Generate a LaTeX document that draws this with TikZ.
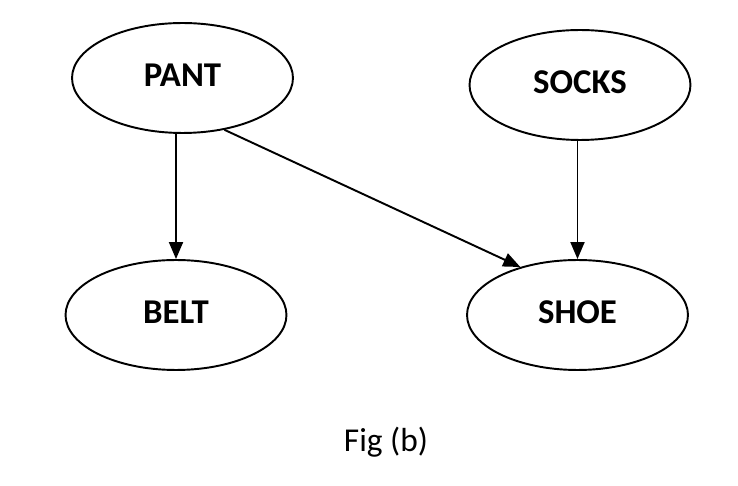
\documentclass[tikz,border=0pt]{standalone}
\usepackage{fontspec}
\setmainfont{Carlito}
\usetikzlibrary{arrows.meta, shapes.geometric}

\begin{document}
\begin{tikzpicture}[
            x = 0.02cm, y = -0.02cm, % one unit per pixel of the figure
            > = {Triangle[width=0.28cm, length=0.34cm]}, % arrow head style
            line width = 1.1pt % line style
        ]

        \tikzstyle{item}=[
            ellipse,
            draw = black,
            line width = 1.1pt,
            fill = white,
            inner sep = 0pt,
            minimum width = 4.42cm,
            minimum height = 2.2cm,
            text depth = 0.12cm, % lift the label a little
            font = \fontsize{19.8}{22}\selectfont\bfseries
        ]

        \useasboundingbox (0,0) rectangle (738,486);

        \node[item] (pant) at (182.5,78) {PANT};
        \node[item] (socks) at (580,85) {SOCKS};
        \node[item] (belt) at (176,315) {BELT};
        \node[item] (shoe) at (577.5,315) {SHOE};

        \draw[->] (belt.north |- pant.south) -- (belt.north);
        \draw[->] (pant.-51) -- (shoe.140);
        \draw[->] (shoe.north |- socks.south) -- (shoe.north);

        \node[font=\fontsize{19}{22}\selectfont] (caption) at (386,442) {Fig (b)};

  \end{tikzpicture}
\end{document}
